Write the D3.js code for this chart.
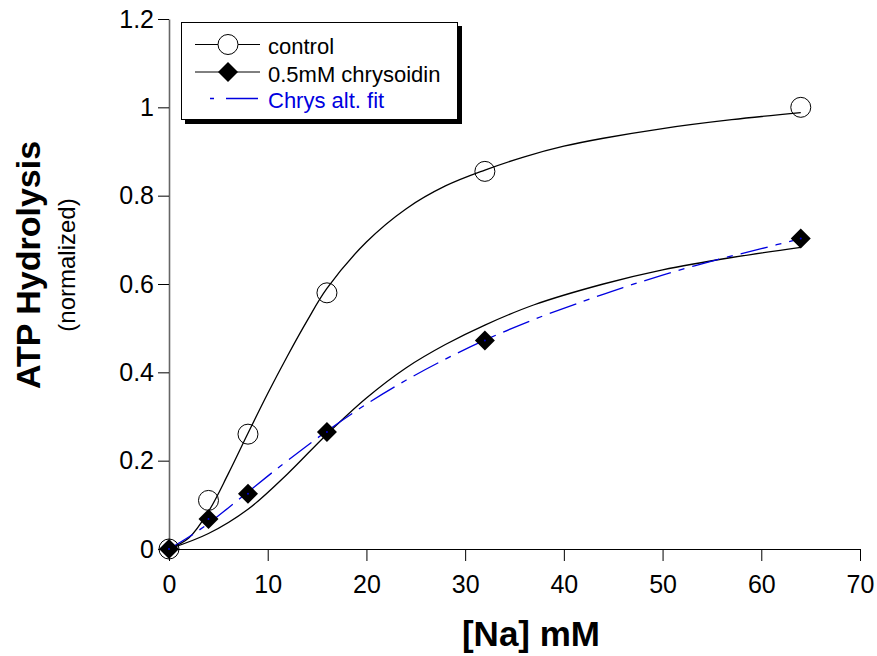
<!DOCTYPE html>
<html>
<head>
<meta charset="utf-8">
<script src="https://cdn.jsdelivr.net/npm/d3@7"></script>
<style>
  body { margin: 0; background: #fff; }
  svg { display: block; font-family: "Liberation Sans", Arial, sans-serif; }
</style>
</head>
<body>
<div id="chart"></div>
<script>
// measured points, [Na] mM
const naConc = [0, 4, 8, 16, 32, 64];
const controlVals = [0, 0.11, 0.26, 0.58, 0.855, 1.0];
const chrysVals = [0, 0.068, 0.125, 0.265, 0.472, 0.703];

// fitted curves as [x, y]
const controlFit = [[0,0],[2,0.025],[4,0.085],[6,0.17],[8,0.262],[10,0.352],[12,0.437],[14,0.517],[16,0.59],
  [20,0.695],[24,0.77],[28,0.822],[32,0.858],[36,0.888],[40,0.912],[44,0.93],[50,0.952],[57,0.972],[64,0.988]];
const chrysFit = [[0,0],[4,0.035],[8,0.09],[12,0.17],[16,0.26],[20,0.342],[24,0.41],[28,0.463],[32,0.507],
  [37,0.553],[44,0.6],[50,0.632],[57,0.66],[64,0.683]];
const chrysAltFit = [[0,0],[2,0.027],[4,0.058],[6,0.093],[8,0.129],[10,0.165],[12,0.2],[16,0.267],[20,0.328],
  [24,0.382],[28,0.43],[32,0.473],[37,0.52],[42,0.561],[46,0.592],[50,0.62],[55,0.652],[60,0.68],[64,0.703]];

const xTicks = [0, 10, 20, 30, 40, 50, 60, 70];
const yTicks = [0, 0.2, 0.4, 0.6, 0.8, 1, 1.2];
const legendLabels = ["control", "0.5mM chrysoidin", "Chrys alt. fit"];

const width = 877, height = 656;
const x = d3.scaleLinear().domain([0, 70]).range([169, 860]);
const y = d3.scaleLinear().domain([0, 1.2]).range([549, 19]);

const svg = d3.select("#chart").append("svg")
    .attr("width", width)
    .attr("height", height);

// axes
const xAxis = svg.append("g")
    .attr("transform", `translate(0,${y(0)})`)
    .call(d3.axisBottom(x).tickValues(xTicks).tickFormat(d3.format("d"))
      .tickSize(12).tickSizeOuter(0).tickPadding(14));
xAxis.selectAll("text").attr("font-size", 25).attr("fill", "#000").attr("font-family", "Liberation Sans, Arial, sans-serif");
xAxis.selectAll("line, path").attr("stroke", "#000");

const yAxis = svg.append("g")
    .attr("transform", `translate(${x(0)},0)`)
    .call(d3.axisLeft(y).tickValues(yTicks).tickFormat(d => d3.format("")(+d.toFixed(1)))
      .tickSize(11).tickSizeOuter(0).tickPadding(4));
yAxis.selectAll("text").attr("font-size", 25).attr("fill", "#000").attr("font-family", "Liberation Sans, Arial, sans-serif");
yAxis.selectAll("line").attr("stroke", "#000");
yAxis.select(".domain").attr("stroke", "#666").attr("stroke-width", 1.6);

// axis titles
svg.append("text")
    .attr("transform", "translate(40,265) rotate(-90)")
    .attr("text-anchor", "middle")
    .attr("font-size", 34)
    .attr("font-weight", "bold")
    .text("ATP Hydrolysis");
svg.append("text")
    .attr("transform", "translate(75,265) rotate(-90)")
    .attr("text-anchor", "middle")
    .attr("font-size", 24)
    .text("(normalized)");
svg.append("text")
    .attr("x", 531)
    .attr("y", 646)
    .attr("text-anchor", "middle")
    .attr("font-size", 35)
    .attr("font-weight", "bold")
    .text("[Na] mM");

// curves
const line = d3.line().x(d => x(d[0])).y(d => y(d[1])).curve(d3.curveCatmullRom);
svg.append("path").datum(controlFit).attr("d", line)
    .attr("fill", "none").attr("stroke", "#000").attr("stroke-width", 1.3);
svg.append("path").datum(chrysFit).attr("d", line)
    .attr("fill", "none").attr("stroke", "#000").attr("stroke-width", 1.3);
svg.append("path").datum(chrysAltFit).attr("d", line)
    .attr("fill", "none").attr("stroke", "#0000e0").attr("stroke-width", 1.3)
    .attr("stroke-dasharray", "28,8,6,8");

// markers
svg.append("g").selectAll("circle")
    .data(naConc.map((c, i) => [c, controlVals[i]]))
    .join("circle")
    .attr("cx", d => x(d[0])).attr("cy", d => y(d[1])).attr("r", 10)
    .attr("fill", "none").attr("stroke", "#000").attr("stroke-width", 1);

const diamond = d3.symbol(d3.symbolSquare, 200);
svg.append("g").selectAll("path")
    .data(naConc.map((c, i) => [c, chrysVals[i]]))
    .join("path")
    .attr("d", diamond)
    .attr("transform", d => `translate(${x(d[0])},${y(d[1])}) rotate(45)`)
    .attr("fill", "#000");
svg.append("g").selectAll("circle")
    .data(naConc.map((c, i) => [c, chrysVals[i]]))
    .join("circle")
    .attr("cx", d => x(d[0])).attr("cy", d => y(d[1])).attr("r", 1)
    .attr("fill", "#0000e0");

// legend
const lg = svg.append("g");
lg.append("rect").attr("x", 185).attr("y", 26).attr("width", 277).attr("height", 98).attr("fill", "#000");
lg.append("rect").attr("x", 181.5).attr("y", 22.5).attr("width", 276).attr("height", 97)
    .attr("fill", "#fff").attr("stroke", "#000").attr("stroke-width", 1);

const rowY = [44.5, 72, 98.5];
legendLabels.forEach((label, i) => {
  const ly = rowY[i];
  if (i < 2) {
    lg.append("line").attr("x1", 195).attr("x2", 260).attr("y1", ly).attr("y2", ly)
        .attr("stroke", "#000").attr("stroke-width", 1);
  } else {
    lg.append("line").attr("x1", 210).attr("x2", 258).attr("y1", ly).attr("y2", ly)
        .attr("stroke", "#0000e0").attr("stroke-width", 1.3).attr("stroke-dasharray", "4,12,32");
  }
  if (i === 0) {
    lg.append("circle").attr("cx", 228).attr("cy", ly).attr("r", 10)
        .attr("fill", "#fff").attr("stroke", "#000");
  } else if (i === 1) {
    lg.append("path").attr("d", diamond)
        .attr("transform", `translate(228,${ly}) rotate(45)`).attr("fill", "#000");
  }
  lg.append("text").attr("x", 268).attr("y", ly + 9.5)
      .attr("font-size", 22)
      .attr("fill", i === 2 ? "#0000e0" : "#000")
      .text(label);
});
</script>
</body>
</html>
